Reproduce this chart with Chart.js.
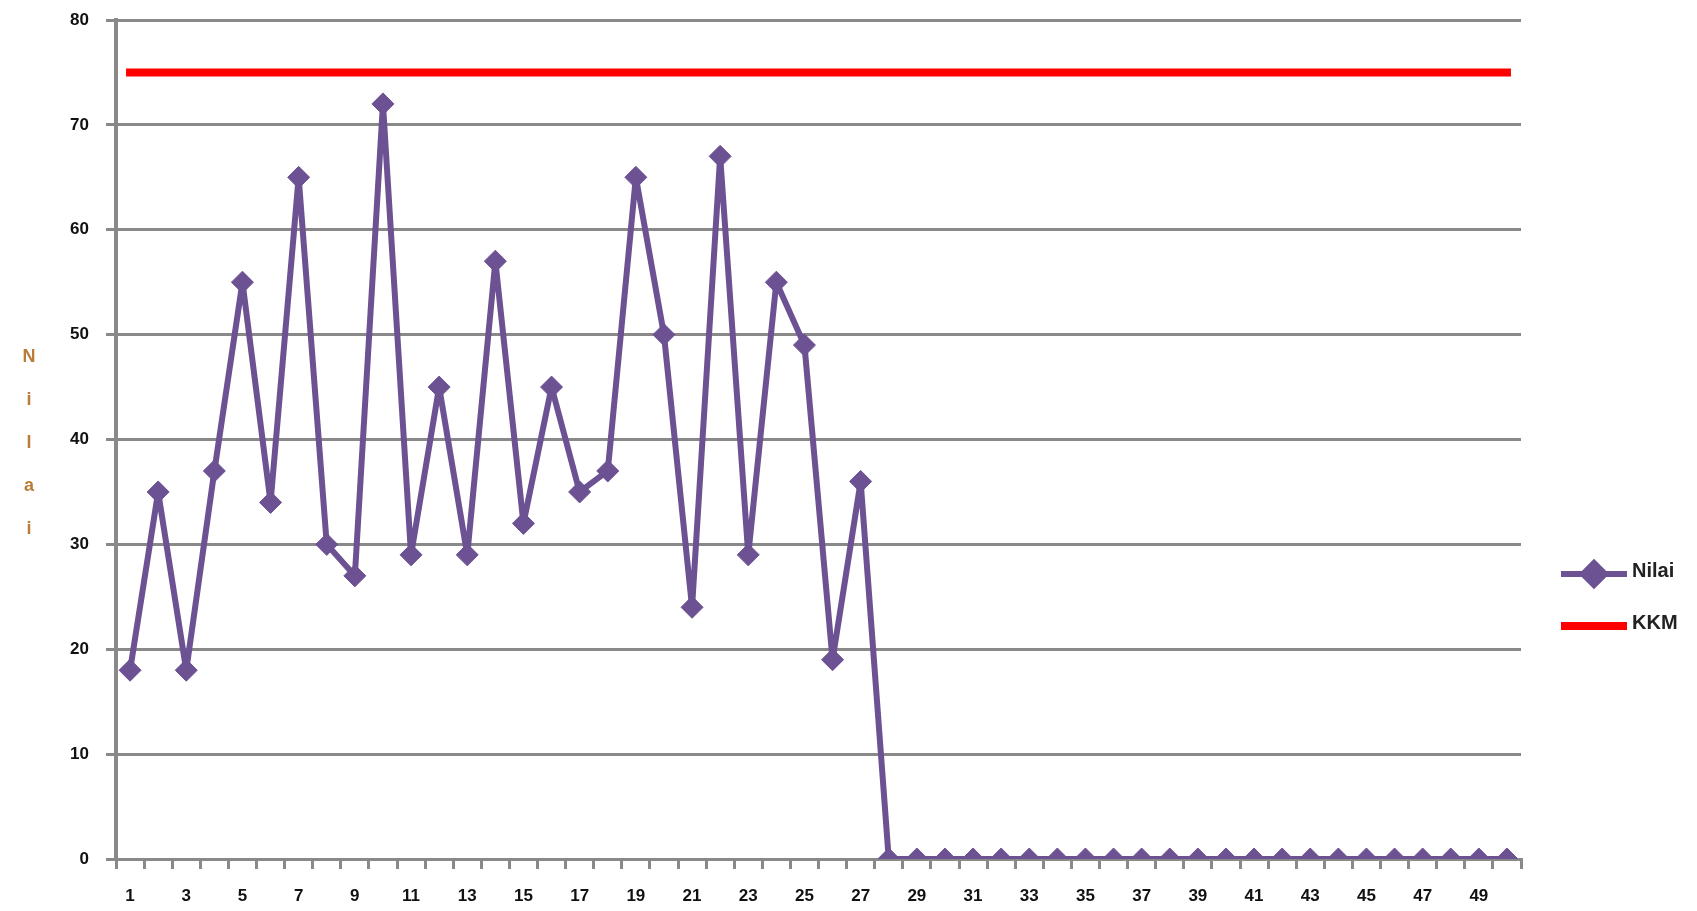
<!DOCTYPE html>
<html lang="id">
<head>
    <meta charset="UTF-8">
    <title>Nilai dan KKM</title>
    <script src="https://cdn.jsdelivr.net/npm/chart.js"></script>
    <style>
        html, body {
            margin: 0;
            padding: 0;
            background: #fff;
        }
        canvas {
            display: block;
        }
    </style>
</head>
<body>
    <canvas id="nilaiChart" width="1697" height="911"></canvas>

    <script>
        // data
        const siswa = [1, 2, 3, 4, 5, 6, 7, 8, 9, 10, 11, 12, 13, 14, 15, 16, 17, 18, 19, 20,
                       21, 22, 23, 24, 25, 26, 27, 28, 29, 30, 31, 32, 33, 34, 35, 36, 37, 38, 39, 40,
                       41, 42, 43, 44, 45, 46, 47, 48, 49, 50];
        const nilai = [18, 35, 18, 37, 55, 34, 65, 30, 27, 72, 29, 45, 29, 57, 32, 45, 35, 37, 65, 50,
                       24, 67, 29, 55, 49, 19, 36, 0, 0, 0, 0, 0, 0, 0, 0, 0, 0, 0, 0, 0,
                       0, 0, 0, 0, 0, 0, 0, 0, 0, 0];
        const kkm = [75, 75, 75, 75, 75, 75, 75, 75, 75, 75, 75, 75, 75, 75, 75, 75, 75, 75, 75, 75,
                     75, 75, 75, 75, 75, 75, 75, 75, 75, 75, 75, 75, 75, 75, 75, 75, 75, 75, 75, 75,
                     75, 75, 75, 75, 75, 75, 75, 75, 75, 75];
        const yAxisTitle = 'Nilai';
        const yMin = 0;
        const yMax = 80;
        const yStep = 10;

        const gridColor = '#898989';
        const tickFont = { family: 'Liberation Sans, Arial, sans-serif', size: 17, weight: 'bold' };

        // stacked letters for the y axis title, like the original
        const stackedTitle = {
            id: 'stackedTitle',
            afterDraw(chart) {
                const ctx = chart.ctx;
                ctx.save();
                ctx.font = 'bold 18px Liberation Sans, Arial, sans-serif';
                ctx.fillStyle = '#b87d38';
                ctx.textAlign = 'center';
                ctx.textBaseline = 'middle';
                const letters = yAxisTitle.split('');
                letters.forEach((ch, i) => {
                    ctx.fillText(ch, 29, 357 + i * 43);
                });
                ctx.restore();
            }
        };

        // legend on the right: line sample (+ marker) and label
        const sideLegend = {
            id: 'sideLegend',
            afterDraw(chart) {
                const ctx = chart.ctx;
                const x0 = 1561, w = 66, textX = 1632;
                ctx.save();
                chart.data.datasets.forEach((ds, i) => {
                    const y = 574 + i * 52;
                    ctx.strokeStyle = ds.borderColor;
                    ctx.lineWidth = ds.borderWidth;
                    ctx.beginPath();
                    ctx.moveTo(x0, y);
                    ctx.lineTo(x0 + w, y);
                    ctx.stroke();
                    if (ds.pointRadius > 0) {
                        ctx.fillStyle = ds.backgroundColor;
                        ctx.strokeStyle = ds.borderColor;
                        Chart.helpers.drawPoint(ctx, {
                            pointStyle: ds.pointStyle,
                            radius: ds.pointRadius,
                            rotation: 0,
                            borderWidth: 1
                        }, x0 + w / 2, y);
                    }
                    ctx.font = 'bold 20px Liberation Sans, Arial, sans-serif';
                    ctx.fillStyle = '#222';
                    ctx.textAlign = 'left';
                    ctx.textBaseline = 'middle';
                    ctx.fillText(ds.label, textX, y - 3);
                });
                ctx.restore();
            }
        };

        const ctx = document.getElementById('nilaiChart').getContext('2d');
        new Chart(ctx, {
            type: 'line',
            data: {
                labels: siswa,
                datasets: [{
                    label: 'Nilai',
                    data: nilai,
                    borderColor: '#6c5293',
                    backgroundColor: '#6c5293',
                    borderWidth: 6,
                    borderJoinStyle: 'round',
                    pointStyle: 'rectRot',
                    pointRadius: 11,
                    pointBorderWidth: 1,
                    tension: 0
                }, {
                    label: 'KKM',
                    data: kkm,
                    borderColor: '#ff0000',
                    backgroundColor: '#ff0000',
                    borderWidth: 8,
                    borderCapStyle: 'square',
                    pointRadius: 0,
                    tension: 0
                }]
            },
            options: {
                responsive: false,
                animation: false,
                layout: {
                    padding: { left: 0, top: 20, right: 176, bottom: 0 }
                },
                plugins: {
                    legend: { display: false },
                    tooltip: { enabled: false }
                },
                scales: {
                    x: {
                        offset: true,
                        grid: {
                            offset: true,
                            drawOnChartArea: false,
                            color: gridColor,
                            lineWidth: 3,
                            tickLength: 10
                        },
                        border: { color: gridColor, width: 3 },
                        ticks: {
                            autoSkip: false,
                            maxRotation: 0,
                            padding: 17,
                            color: '#111',
                            font: tickFont,
                            callback: function (value, index) {
                                return index % 2 === 0 ? this.getLabelForValue(value) : '';
                            }
                        },
                        afterFit: (scale) => { scale.height = 52; }
                    },
                    y: {
                        min: yMin,
                        max: yMax,
                        grid: {
                            color: gridColor,
                            lineWidth: 3,
                            tickLength: 10
                        },
                        border: { color: gridColor, width: 4 },
                        ticks: {
                            stepSize: yStep,
                            padding: 17,
                            color: '#111',
                            font: tickFont
                        },
                        afterFit: (scale) => {
                            scale.width = 116;
                            // the tick padding is horizontal only here
                            scale.paddingTop = 10;
                            scale.paddingBottom = 10;
                        }
                    }
                }
            },
            plugins: [stackedTitle, sideLegend]
        });
    </script>
</body>
</html>
